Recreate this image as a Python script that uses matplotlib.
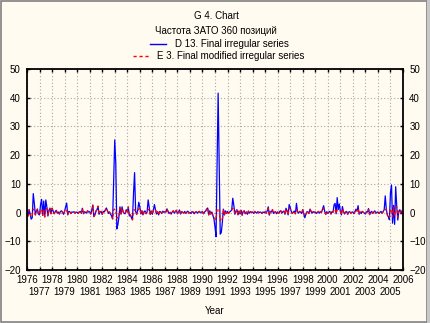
import matplotlib
matplotlib.use("Agg")
import matplotlib.pyplot as plt
from matplotlib.lines import Line2D
from matplotlib.patches import Rectangle

plt.rcParams['font.family'] = ['Liberation Sans', 'DejaVu Sans']

# monthly values, one row per year 1976..2005
years = list(range(1976, 2006))

d13 = [
    [0.8, -1.2, 1.0, -0.5, -2.3, -1.8, 6.6, 3.2, -0.8, 0.5, 1.2, -0.6],   # 1976
    [-0.8, 2.8, 4.6, -1.0, 4.0, -1.5, 4.4, 2.0, -1.2, 0.8, 1.5, -0.4],    # 1977
    [1.5, 0.6, -0.4, 0.3, 0.8, -0.2, 0.2, -0.5, 0.4, 0.6, 0.1, -0.6],     # 1978
    [0.5, 2.0, 3.3, -0.8, 0.4, 0.3, -0.3, 0.2, 0.1, 0.3, -0.2, 0.2],      # 1979
    [0.1, -0.3, 0.2, 0.4, -0.2, 1.5, -0.4, 0.3, 0.1, -0.2, 0.6, 0.2],     # 1980
    [0.3, -0.5, 0.8, 2.6, -1.4, -0.8, 0.5, 1.0, 2.2, -0.6, 0.3, 0.4],     # 1981
    [-0.6, 0.4, 0.2, 0.9, 1.6, 0.6, -0.3, 0.2, -0.5, -1.2, -2.2, 11.0],   # 1982
    [25.3, 17.2, -5.7, -4.3, -1.5, 2.0, -0.5, 2.0, 0.3, -0.3, -0.4, 1.0], # 1983
    [0.2, 1.8, -1.2, -0.8, -1.8, -2.4, 6.7, 13.9, 0.4, -0.6, 0.8, 3.6],   # 1984
    [2.0, -0.5, 0.6, -0.8, 0.3, 0.6, -0.4, 0.2, 4.4, 2.0, -0.6, 0.5],     # 1985
    [-0.6, 0.8, 2.8, 1.0, -0.5, 0.3, -0.8, 0.4, 0.2, -0.3, 0.5, 0.1],     # 1986
    [0.3, 0.2, 1.3, 0.4, -0.3, 0.1, -0.5, 0.2, 0.6, -0.2, 0.3, 0.8],      # 1987
    [-0.4, 0.2, 0.9, -0.5, 0.3, 0.1, -0.2, 0.4, -0.3, 0.2, 0.5, -0.2],    # 1988
    [0.1, -0.3, 0.3, 0.2, -0.4, 0.1, 0.3, -0.2, 0.2, 0.4, -0.1, 0.2],     # 1989
    [0.3, -0.4, 0.2, 0.5, 1.2, 1.6, -0.8, 0.6, -0.5, 0.2, -1.0, -2.2],    # 1990
    [-5.0, -8.4, 17.0, 41.6, 17.0, -7.5, -7.0, -3.5, 1.2, -0.8, 0.6, -0.3],  # 1991
    [0.4, -0.3, 0.2, 0.5, 0.9, 5.0, 2.6, -0.6, 0.4, 1.0, -0.8, 0.5],      # 1992
    [-0.5, 0.8, -0.9, 0.3, 0.6, -0.4, 0.2, -0.6, 0.5, -0.2, 0.3, 0.1],    # 1993
    [0.2, -0.3, 0.4, 0.1, -0.2, 0.3, -0.1, 0.2, 0.1, -0.3, 0.2, 0.0],     # 1994
    [0.3, -0.2, 0.6, 2.0, -0.9, 0.4, 0.2, 1.0, -0.3, 0.1, 0.3, -0.4],     # 1995
    [0.2, -0.3, 0.4, 0.6, -0.2, 0.3, 0.5, -0.6, 1.5, 0.6, -0.8, 2.8],     # 1996
    [1.8, 0.4, -0.3, 0.2, 0.5, -0.4, 3.2, 0.3, -0.2, 0.4, 0.1, -0.3],     # 1997
    [1.0, -0.5, -1.8, -0.6, 0.3, 0.2, -0.3, 1.2, 0.4, -0.2, 0.3, 0.1],    # 1998
    [0.2, -0.3, 0.1, 0.4, -0.2, 0.3, 0.1, 1.2, 2.4, 0.5, -0.6, 0.3],      # 1999
    [-0.3, 0.2, 0.4, -0.5, 0.3, 0.1, 2.7, 3.2, -0.4, 5.2, 1.0, 3.0],      # 2000
    [0.5, -0.8, 2.1, 0.3, -0.5, 0.2, 0.4, -0.6, 0.2, 0.3, -0.2, 0.1],     # 2001
    [0.2, -0.4, 0.3, 1.2, 0.5, 2.4, -0.6, 0.2, -0.3, 0.4, 0.1, -0.2],     # 2002
    [-0.5, 0.3, 0.2, 1.4, -0.7, 0.1, 0.4, -0.3, 0.2, 0.6, -0.2, 0.1],     # 2003
    [0.2, -0.3, 0.1, 0.4, -0.2, 0.3, 1.0, 5.8, 1.2, -0.8, -1.5, -2.5],    # 2004
    [7.0, 9.6, -3.7, 2.5, -4.1, 9.0, 2.2, -2.6, 0.5, 1.0, -0.4, 0.6],     # 2005
]

e3 = [
    [0.8, -1.2, 1.0, -0.5, -1.5, -1.0, 1.2, 0.8, -0.8, 0.5, 1.2, -0.6],   # 1976
    [-0.8, 1.0, 1.2, -1.0, 0.9, -1.5, 1.0, 1.5, -1.2, 0.8, 1.5, -0.4],    # 1977
    [1.5, 0.6, -0.4, 0.3, 0.8, -0.2, 0.2, -0.5, 0.4, 0.6, 0.1, -0.6],     # 1978
    [0.5, 1.2, 1.0, -0.8, 0.4, 0.3, -0.3, 0.2, 0.1, 0.3, -0.2, 0.2],      # 1979
    [0.1, -0.3, 0.2, 0.4, -0.2, 1.5, -0.4, 0.3, 0.1, -0.2, 0.6, 0.2],     # 1980
    [0.3, -0.5, 0.8, 2.6, -1.4, -0.8, 0.5, 1.0, 2.2, -0.6, 0.3, 0.4],     # 1981
    [-0.6, 0.4, 0.2, 0.9, 1.6, 0.6, -0.3, 0.2, -0.5, -1.2, -2.2, 1.0],    # 1982
    [1.2, 0.8, -2.0, -1.5, -1.5, 1.5, -0.5, 1.6, 0.3, -0.3, -0.4, 1.0],   # 1983
    [0.2, 2.0, -1.2, -0.8, -1.8, -2.6, 0.8, 1.0, 0.4, -0.6, 0.8, 1.2],    # 1984
    [1.5, -0.5, 0.6, -0.8, 0.3, 0.6, -0.4, 0.2, 1.0, 1.2, -0.6, 0.5],     # 1985
    [-0.6, 0.8, 1.2, 1.0, -0.5, 0.3, -0.8, 0.4, 0.2, -0.3, 0.5, 0.1],     # 1986
    [0.3, 0.2, 1.3, 0.4, -0.3, 0.1, -0.5, 0.2, 0.6, -0.2, 0.3, 0.8],      # 1987
    [-0.4, 0.2, 0.9, -0.5, 0.3, 0.1, -0.2, 0.4, -0.3, 0.2, 0.5, -0.2],    # 1988
    [0.1, -0.3, 0.3, 0.2, -0.4, 0.1, 0.3, -0.2, 0.2, 0.4, -0.1, 0.2],     # 1989
    [0.3, -0.4, 0.2, 0.5, 1.2, 1.6, -0.8, 0.6, -0.5, 0.2, -1.0, -1.8],    # 1990
    [-2.0, -2.5, 1.0, 1.5, 0.8, -2.8, -2.0, -2.5, 1.2, -0.8, 0.6, -0.3],  # 1991
    [0.4, -0.3, 0.2, 0.5, 0.9, 1.5, 1.2, -0.6, 0.4, 1.0, -0.8, 0.5],      # 1992
    [-0.5, 0.8, -0.9, 0.3, 0.6, -0.4, 0.2, -0.6, 0.5, -0.2, 0.3, 0.1],    # 1993
    [0.2, -0.3, 0.4, 0.1, -0.2, 0.3, -0.1, 0.2, 0.1, -0.3, 0.2, 0.0],     # 1994
    [0.3, -0.2, 0.6, 1.5, -0.9, 0.4, 0.2, 1.0, -0.3, 0.1, 0.3, -0.4],     # 1995
    [0.2, -0.3, 0.4, 0.6, -0.2, 0.3, 0.5, -0.6, 1.2, 0.6, -0.8, 1.5],     # 1996
    [1.2, 0.4, -0.3, 0.2, 0.5, -0.4, 1.0, 0.3, -0.2, 0.4, 0.1, -0.3],     # 1997
    [1.0, -0.5, -1.2, -0.6, 0.3, 0.2, -0.3, 1.2, 0.4, -0.2, 0.3, 0.1],    # 1998
    [0.2, -0.3, 0.1, 0.4, -0.2, 0.3, 0.1, 1.2, 1.5, 0.5, -0.6, 0.3],      # 1999
    [-0.3, 0.2, 0.4, -0.5, 0.3, 0.1, 1.0, 1.2, -0.4, 1.0, 1.0, 0.8],      # 2000
    [0.5, -0.8, 1.2, 0.3, -0.5, 0.2, 0.4, -0.6, 0.2, 0.3, -0.2, 0.1],     # 2001
    [0.2, -0.4, 0.3, 1.2, 0.5, 1.4, -0.6, 0.2, -0.3, 0.4, 0.1, -0.2],     # 2002
    [-0.5, 0.3, 0.2, 1.2, -0.7, 0.1, 0.4, -0.3, 0.2, 0.6, -0.2, 0.1],     # 2003
    [0.2, -0.3, 0.1, 0.4, -0.2, 0.3, 1.0, 1.0, 1.2, -0.8, -1.5, -1.8],    # 2004
    [1.2, 1.0, -1.5, 1.8, -1.2, 1.5, 2.0, -1.6, 0.5, 1.0, -0.4, 0.6],     # 2005
]

even_years = list(range(1976, 2007, 2))
odd_years = list(range(1977, 2006, 2))

x = [y + m / 12.0 for y in years for m in range(12)]
blue = [v for row in d13 for v in row]
red = [v for row in e3 for v in row]

fs = 7
bg = "#fffbf0"
dash = (0, (2.3, 2))
fig = plt.figure(figsize=(4.31, 3.23), dpi=100, facecolor=bg)
ax = fig.add_axes([27 / 431, 1 - 270 / 323, 376 / 431, 201 / 323])
ax.set_facecolor(bg)

ax.plot(x, blue, color="#0000ff", lw=0.9)
ax.plot(x, red, color="#ff0000", lw=0.9, ls=dash)

ax.set_xlim(1976, 2006)
ax.set_ylim(-20, 50)
ax.set_yticks(range(-20, 51, 10))
# even years on the first row, odd years on the second
ax.set_xticks(even_years)
ax.set_xticklabels([str(t) for t in even_years])
ax.set_xticks(odd_years, minor=True)
ax.set_xticklabels([str(t) for t in odd_years], minor=True)
ax.grid(True, which="both", axis="x", color="#a8a8a8", ls=(0, (1, 2)), lw=0.8)
ax.grid(True, axis="y", color="#a8a8a8", ls=(0, (1, 2)), lw=0.8)
ax.tick_params(which="both", direction="in", length=2.5, width=1, labelsize=fs,
               top=True, right=True, labelright=True)
ax.tick_params(axis="y", pad=4.5)
ax.tick_params(axis="x", which="major", pad=3.8)
ax.tick_params(axis="x", which="minor", pad=12.4)
for s in ax.spines.values():
    s.set_linewidth(1.3)
ax.set_xlabel("Year", fontsize=fs, labelpad=6)

# titles
fig.text(216 / 431, 1 - 16 / 323, "G 4. Chart", ha="center", va="center", fontsize=fs)
fig.text(216 / 431, 1 - 31 / 323, "Частота ЗАТО 360 позиций", ha="center", va="center", fontsize=fs)

# legend drawn by hand, as in the original
fig.add_artist(Line2D([150 / 431, 166 / 431], [1 - 44 / 323] * 2, color="#0000ff", lw=1))
fig.text(175 / 431, 1 - 44 / 323, "D 13. Final irregular series", va="center", fontsize=fs)
fig.add_artist(Line2D([133 / 431, 149 / 431], [1 - 56 / 323] * 2, color="#ff0000", lw=1, ls=dash))
fig.text(157 / 431, 1 - 56 / 323, "E 3. Final modified irregular series", va="center", fontsize=fs)

# window frame
fig.add_artist(Rectangle((0.002, 0.003), 0.989, 0.994, transform=fig.transFigure,
                         fill=False, edgecolor="#808080", lw=1.2))
fig.add_artist(Rectangle((0.991, 0), 0.009, 1, transform=fig.transFigure,
                         facecolor="#c8c8c8", edgecolor="none"))

fig.savefig("out.png", dpi=100, facecolor=bg)
